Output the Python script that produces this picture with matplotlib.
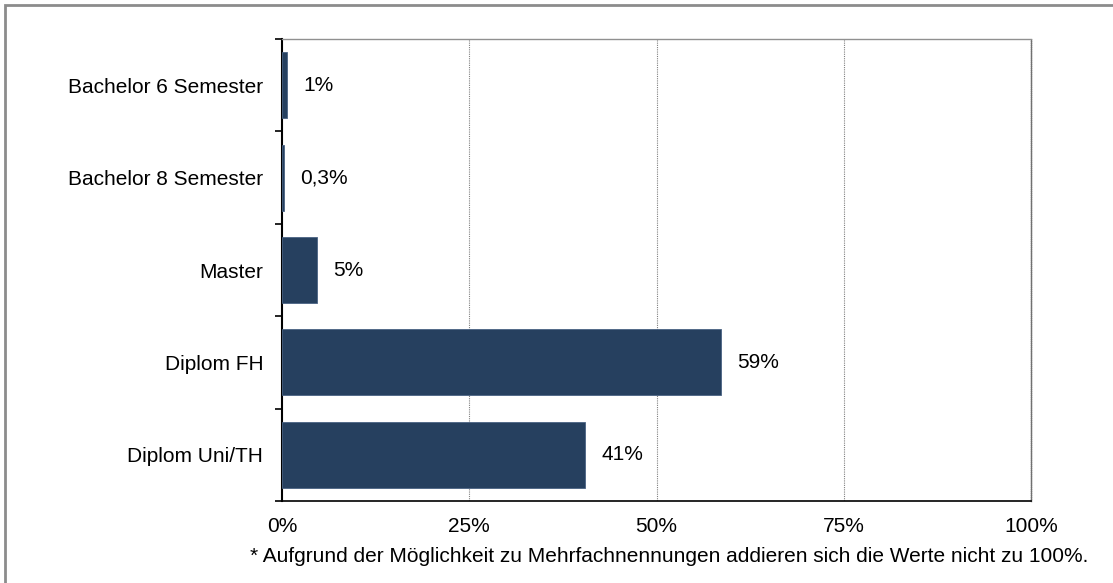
import matplotlib
matplotlib.use('Agg')
import matplotlib.pyplot as plt
import matplotlib.patches as mpatches
import numpy as np

plt.rcParams['font.family'] = ['Liberation Sans', 'DejaVu Sans']

# Daten (von unten nach oben)
categories = ['Diplom Uni/TH', 'Diplom FH', 'Master', 'Bachelor 8 Semester', 'Bachelor 6 Semester']
values = [40.5, 58.6, 4.7, 0.3, 0.7]
value_labels = ['41%', '59%', '5%', '0,3%', '1%']
x_ticks = [0, 25, 50, 75, 100]
x_ticklabels = ['0%', '25%', '50%', '75%', '100%']
footnote = '* Aufgrund der Möglichkeit zu Mehrfachnennungen addieren sich die Werte nicht zu 100%.'

bar_color = '#26405f'
fs = 15

fig = plt.figure(figsize=(11.13, 5.83), dpi=100)
ax = fig.add_axes([282 / 1113, 1 - 501 / 583, 749 / 1113, 462 / 583])

y = np.arange(len(categories))
ax.barh(y, values, height=0.715, color=bar_color, edgecolor='#4a6384', linewidth=0.6, zorder=3)

for yi, v, lab in zip(y, values, value_labels):
    ax.annotate(lab, xy=(v, yi), xytext=(11.5, 0), textcoords='offset points',
                ha='left', va='center', fontsize=fs, color='black')

ax.set_xlim(0, 100)
ax.set_ylim(-0.5, len(categories) - 0.5)

# Gitterlinien
for xv in [25, 50, 75]:
    ax.axvline(xv, color='#808080', linestyle=(0, (1, 1)), linewidth=0.8, zorder=1)

ax.set_xticks(x_ticks)
ax.set_xticklabels(x_ticklabels, fontsize=fs)
ax.tick_params(axis='x', length=0, pad=11.5)

ax.set_yticks(y)
ax.set_yticklabels(categories, fontsize=fs)
ax.tick_params(axis='y', which='major', length=0, pad=13.5)
ax.set_yticks(np.arange(-0.5, len(categories)), minor=True)
ax.tick_params(axis='y', which='minor', length=5, width=1.2, direction='out', color='black')

ax.spines['left'].set_color('black')
ax.spines['left'].set_linewidth(1.5)
ax.spines['bottom'].set_color('black')
ax.spines['bottom'].set_linewidth(1.2)
ax.spines['top'].set_color('#909090')
ax.spines['top'].set_linewidth(1.0)
ax.spines['right'].set_color('#707070')
ax.spines['right'].set_linewidth(1.0)
ax.spines['right'].set_linestyle((0, (1, 0.5)))

fig.text(1088 / 1113, 1 - 556 / 583, footnote, ha='right', va='center', fontsize=fs)

# Rahmen um die Grafik
border = mpatches.Rectangle((5 / 1113, -0.1), 1.2, 1 - 5 / 583 + 0.1, transform=fig.transFigure,
                            fill=False, edgecolor='#8c8c8c', linewidth=2, clip_on=False)
fig.patches.append(border)

fig.savefig('out.png', dpi=100)
